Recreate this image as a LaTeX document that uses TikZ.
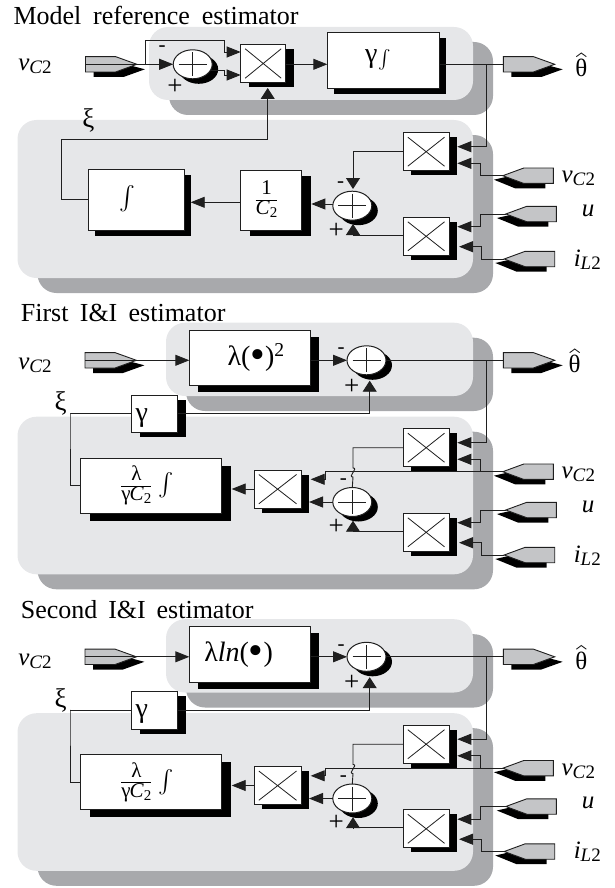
\documentclass[tikz,border=0pt]{standalone}
\usepackage{fontspec}
\usepackage{graphicx}
\setmainfont{Liberation Serif}
\usetikzlibrary{arrows.meta,shadows,shapes.geometric}
\definecolor{panellight}{HTML}{E6E7E9}
\definecolor{paneldark}{HTML}{A8A9AC}
\definecolor{tagfill}{HTML}{C4C5C7}
\definecolor{ink}{HTML}{1F1F1F}
\tikzset{
  wire/.style={draw=ink,line width=0.9pt},
  arrH/.style={wire,-{Triangle[length=14pt,width=11pt]}},
  arrV/.style={wire,-{Triangle[length=11pt,width=14pt]}},
  boxshadow/.style n args={2}{general shadow={fill=black,shadow xshift=#1pt,shadow yshift=-#2pt}},
  blockbox/.style={draw=ink,fill=white,line width=1pt,rectangle,inner sep=0pt,outer sep=0pt},
  sumnode/.style={draw=ink,fill=white,line width=1pt,ellipse,inner sep=0pt,outer sep=0pt,minimum width=39pt,minimum height=29pt,boxshadow={6}{5}},
  label/.style={inner sep=0pt,font=\fontsize{25}{28}\selectfont},
  sign/.style={inner sep=0pt,font=\fontsize{27}{28}\selectfont},
  minussign/.style={inner sep=0pt,font=\fontsize{21}{24}\selectfont},
  blocktext/.style={font=\fontsize{28}{32}\selectfont},
}
\newcommand\blk[7][boxshadow={8}{4.5}]{%
  \node[blockbox,blocktext,#1,minimum width={(#5-#3)*1pt},minimum height={(#6-#4)*1pt}] (#2) at ({(#3+#5)/2},{(#4+#6)/2}) {#7};}
\newcommand\mult[5]{%
  \blk{#1}{#2}{#3}{#4}{#5}{}%
  \draw[line width=0.8pt,draw=ink] ({#2+4.5},{#3+4.5}) -- ({#4-4.5},{#5-4.5}) ({#2+4.5},{#5-4.5}) -- ({#4-4.5},{#3+4.5});}
\newcommand\summer[3]{%
  \node[sumnode] (#1) at (#2,#3) {};
  \draw[line width=0.8pt,draw=ink] ({#2-14},#3) -- ({#2+14},#3) ({#2},{#3-12}) -- ({#2},{#3+12});}
\newcommand\tagout[3]{%
  \fill[black] ({#2+8},{#3-2.7}) -- ({#2+30},{#3-2.7}) -- ({#2+59.4},{#3+5}) -- ({#2+38},{#3+12.7}) -- ({#2+8},{#3+12.7}) -- cycle;
  \filldraw[fill=tagfill,draw=ink,line width=0.9pt] (#2,{#3-7.7}) -- ({#2+30},{#3-7.7}) -- ({#2+51.4},#3) -- ({#2+30},{#3+7.7}) -- (#2,{#3+7.7}) -- cycle;
  \coordinate (#1) at (#2,#3);
  \coordinate (#1tip) at ({#2+51.4},#3);}
\newcommand\tagin[3]{%
  \fill[black] ({#2-8},{#3-2.7}) -- ({#2-30},{#3-2.7}) -- ({#2-59.4},{#3+4}) -- ({#2-38},{#3+12.7}) -- ({#2-8},{#3+12.7}) -- cycle;
  \filldraw[fill=tagfill,draw=ink,line width=0.9pt] (#2,{#3-7.7}) -- ({#2-29.5},{#3-7.7}) -- ({#2-50.5},#3) -- ({#2-29.5},{#3+7.7}) -- (#2,{#3+7.7}) -- cycle;
  \coordinate (#1) at ({#2-50.5},#3);}
\newcommand\panelrect[4]{%
  \fill[paneldark,rounded corners=19pt] ({#1+20},{#2+15}) rectangle ({#3+20},{#4+15});}
\newcommand\panellite[4]{%
  \fill[panellight,rounded corners=19pt] (#1,#2) rectangle (#3,#4);}
\newcommand\vctwo{\textit{v}\raisebox{-3pt}{\fontsize{19}{20}\selectfont\textit{C}2}}
\newcommand\iltwo{\textit{i}\raisebox{-3pt}{\fontsize{19}{20}\selectfont\textit{L}2}}
\newcommand\myint[1]{\raisebox{-9pt}{\resizebox{!}{#1pt}{$\textstyle\int$}}}
\newcommand\fracbox[3]{{\renewcommand\arraystretch{0.78}\setlength\arrayrulewidth{0.8pt}\fontsize{#3}{#3}\selectfont\begin{tabular}[c]{@{}c@{}}#1\\\hline #2\end{tabular}}}
\newcommand\lamfrac{\fracbox{λ}{γ\kern-1pt\textit{C}\raisebox{-3pt}{\fontsize{15}{16}\selectfont 2}}{21}}
\newcommand\dotmark{\raisebox{-3pt}{\scalebox{1.5}{•}}}
\newcommand\rightpart[3]{%
  \begin{scope}[shift={(0,#2)}]
    \mult{#1Rmu}{403.3}{132.7}{449}{170.7}
    \mult{#1Rml}{403.3}{217.3}{449}{255.3}
    \tagout{#1Rout}{503.3}{64.3}
    \tagin{#1Rv}{553.3}{175.7}
    \tagin{#1Ru}{556.3}{214}
    \tagin{#1Ri}{554.7}{259}
    \coordinate (#1Rj) at (486,64.3);
    \coordinate (#1Ra) at (457.3,146.7);
    \coordinate (#1Rb) at (457.3,163.3);
    \coordinate (#1Rbk) at (480,163.3);
    \coordinate (#1Rc) at (457.3,226.7);
    \coordinate (#1Rck) at (480,226.7);
    \coordinate (#1Rd) at (459,246.7);
    \coordinate (#1Rdk) at (481.3,246.7);
    \node[label,inner sep=0pt] (#1Rth) at (#3,68) {θ};
    \draw[line width=0.9pt,draw=ink] ({#3-5},56.7) -- (#3,53) -- ({#3+5},56.7);
    \node[label] (#1Rlv) at (578.3,178.5) {\vctwo};
    \node[label] (#1Rlu) at (588,210.5) {\textit{u}};
    \node[label] (#1Rli) at (587.3,259.5) {\iltwo};
  \end{scope}
  \draw[wire] (#1Rj) -- (#1Rout);
  \draw[arrH] (#1Rj) |- (#1Ra);
  \draw[arrH] (#1Rv) -| (#1Rbk) -- (#1Rb);
  \draw[arrH] (#1Ru) -| (#1Rck) -- (#1Rc);
  \draw[arrH] (#1Ri) -| (#1Rdk) -- (#1Rd);
}
\newcommand\panelB[6]{%
  \begin{scope}[shift={(0,#2)}]
    \panelrect{166}{322.7}{473}{396}
    \panelrect{17.5}{416.7}{473}{574.3}
    \panellite{166}{322.7}{473}{396}
    \panellite{17.5}{416.7}{473}{574.3}
    \node[inner sep=0pt,anchor=base west,font=\fontsize{26}{28}\selectfont] (#1title) at (20.7,321.7) {\makebox[#3pt][s]{#4}};
    \node[label] (#1lin) at (35,365) {\vctwo};
    \tagout{#1in}{85}{360.3}
    \blk[boxshadow={8.5}{6.5}]{#1f}{189.3}{330}{310}{385.7}{#5}
    \summer{#1s}{366.5}{360.3}
    \node[minussign] (#1m1) at (341,351) {-};
    \node[sign] (#1p1) at (351.7,386.5) {+};
    \blk[boxshadow={8}{4.5}]{#1g}{131.7}{395}{177.7}{432.7}{\smash{\raisebox{-7.6pt}{γ}}\kern26pt}
    \coordinate (#1gt) at (369.7,380.7);
    \node[label,font=\fontsize{27}{30}\selectfont] (#1xi) at (60.7,403.5) {ξ};
    \blk[boxshadow={10}{7.5}]{#1h}{80}{458.3}{221}{513.3}{\lamfrac\kern7pt\myint{27}\kern6pt}
    \coordinate (#1hk) at (70,413.3);
    \mult{#1x}{254.3}{470}{301}{508.3}
    \coordinate (#1ht) at (231.7,489);
    \summer{#1t}{352.3}{502}
    \node[minussign] (#1m2) at (343.3,482) {-};
    \node[sign] (#1p2) at (336.3,526.5) {+};
    \coordinate (#1xa) at (310.7,479.3);
    \coordinate (#1xak) at (325.7,479.3);
    \coordinate (#1xb) at (309,502);
    \coordinate (#1tt) at (353,520.7);
    \coordinate (#1tk) at (353,531);
    \coordinate (#1b1) at (353,468);
    \coordinate (#1b2) at (353,477);
    \coordinate (#1mlw) at (403.3,531);
    \coordinate (#1b1c) at (359,468);
    \coordinate (#1b2c) at (347,477);
  \end{scope}
  \rightpart{#1}{#2+296}{#6}
  \draw[arrH] (#1in) -- (#1in -| #1f.west);
  \draw[arrH] (#1Rj -| #1f.east) -- (#1s.west);
  \draw[wire] (#1s.east) -- (#1Rj);
  \draw[arrV] (#1g.east) -| (#1gt);
  \draw[wire] (#1g.west) -| (#1hk) |- (#1h.west);
  \draw[arrH] (#1ht -| #1x.west) -- (#1ht);
  \draw[arrH] (#1Rv) -| (#1xak) -- (#1xa);
  \draw[arrH] (#1t.west) -- (#1xb);
  \draw[wire] (#1Rmu.west) -| (#1b1) .. controls (#1b1c) and (#1b2c) .. (#1b2) -- (#1t.north);
  \draw[wire] (#1mlw) -- (#1tk);
  \draw[arrV] (#1tk) -- (#1tt);
}
\begin{document}
\begin{tikzpicture}[x=1pt,y=-1pt]
\useasboundingbox (0,0) rectangle (614,888);
\clip (0,0) rectangle (614,888);
\panelrect{149}{27}{473}{100}
\panelrect{17.5}{120}{473}{278}
\panellite{149}{27}{473}{100}
\panellite{17.5}{120}{473}{278}
\node[inner sep=0pt,anchor=base west,font=\fontsize{26}{28}\selectfont] (atitle) at (13.3,25) {\makebox[285pt][s]{Model reference estimator}};
\node[label] (alin) at (35,66) {\vctwo};
\tagout{ain}{85.5}{64.3}
\summer{as}{192.7}{64.3}
\node[minussign] (am1) at (162,48.5) {-};
\node[sign] (ap1) at (175,86.5) {+};
\mult{am}{240.7}{44.3}{285.7}{82.7}
\blk[boxshadow={7}{6}]{ag}{327.3}{32.3}{439}{88.3}{γ\kern1pt\myint{22}\kern10pt}
\blk[boxshadow={6.5}{6}]{ai}{88.3}{169.3}{184}{230}{\myint{28}\kern17pt}
\blk[boxshadow={10}{6}]{ac}{240}{170}{301}{230}{\fracbox{1}{\textit{C}\raisebox{-3pt}{\fontsize{15}{16}\selectfont 2}}{21}\kern8pt}
\summer{at}{352.3}{205.7}
\node[minussign] (am2) at (340.7,184.5) {-};
\node[sign] (ap2) at (336.3,231) {+};
\node[label,font=\fontsize{27}{30}\selectfont] (axi) at (88.3,120) {ξ};
\coordinate (abj) at (145.7,64.3);
\coordinate (aup1) at (224,40);
\coordinate (aup2) at (224,52);
\coordinate (aupt) at (240.7,52);
\coordinate (alo2) at (224,75);
\coordinate (alot) at (240.7,75);
\coordinate (axa) at (61.7,139);
\coordinate (axb) at (267.7,88);
\coordinate (aci) at (190.7,202.3);
\coordinate (atc) at (311.3,204);
\coordinate (atopt) at (353,189);
\coordinate (atk) at (353,235);
\coordinate (attt) at (353,224);
\coordinate (awl) at (403.3,235);
\rightpart{a}{0}{581.3}
\draw[arrH] (ain) -- (as.west);
\draw[arrH] (abj) |- (aup1) -- (aup2) -- (aupt);
\draw[arrH] (as.-20) -| (alo2) -- (alot);
\draw[arrH] (aRj -| am.east) -- (aRj -| ag.west);
\draw[wire] (aRj -| ag.east) -- (aRj);
\draw[arrV] (ai.west) -| (axa) -| (axb);
\draw[arrH] (aci -| ac.west) -- (aci);
\draw[arrH] (atc -| at.west) -- (atc);
\draw[arrV] (aRmu.west) -| (atopt);
\draw[wire] (awl) -- (atk);
\draw[arrV] (atk) -- (attt);
\panelB{b}{0}{204.5}{First I\&I estimator}{\kern13pt λ(\dotmark)\textsuperscript{2}}{574.7}
\panelB{c}{296.5}{232.5}{Second I\&I estimator}{λ\textit{ln}(\dotmark)\kern22pt}{581.3}
\end{tikzpicture}
\end{document}
